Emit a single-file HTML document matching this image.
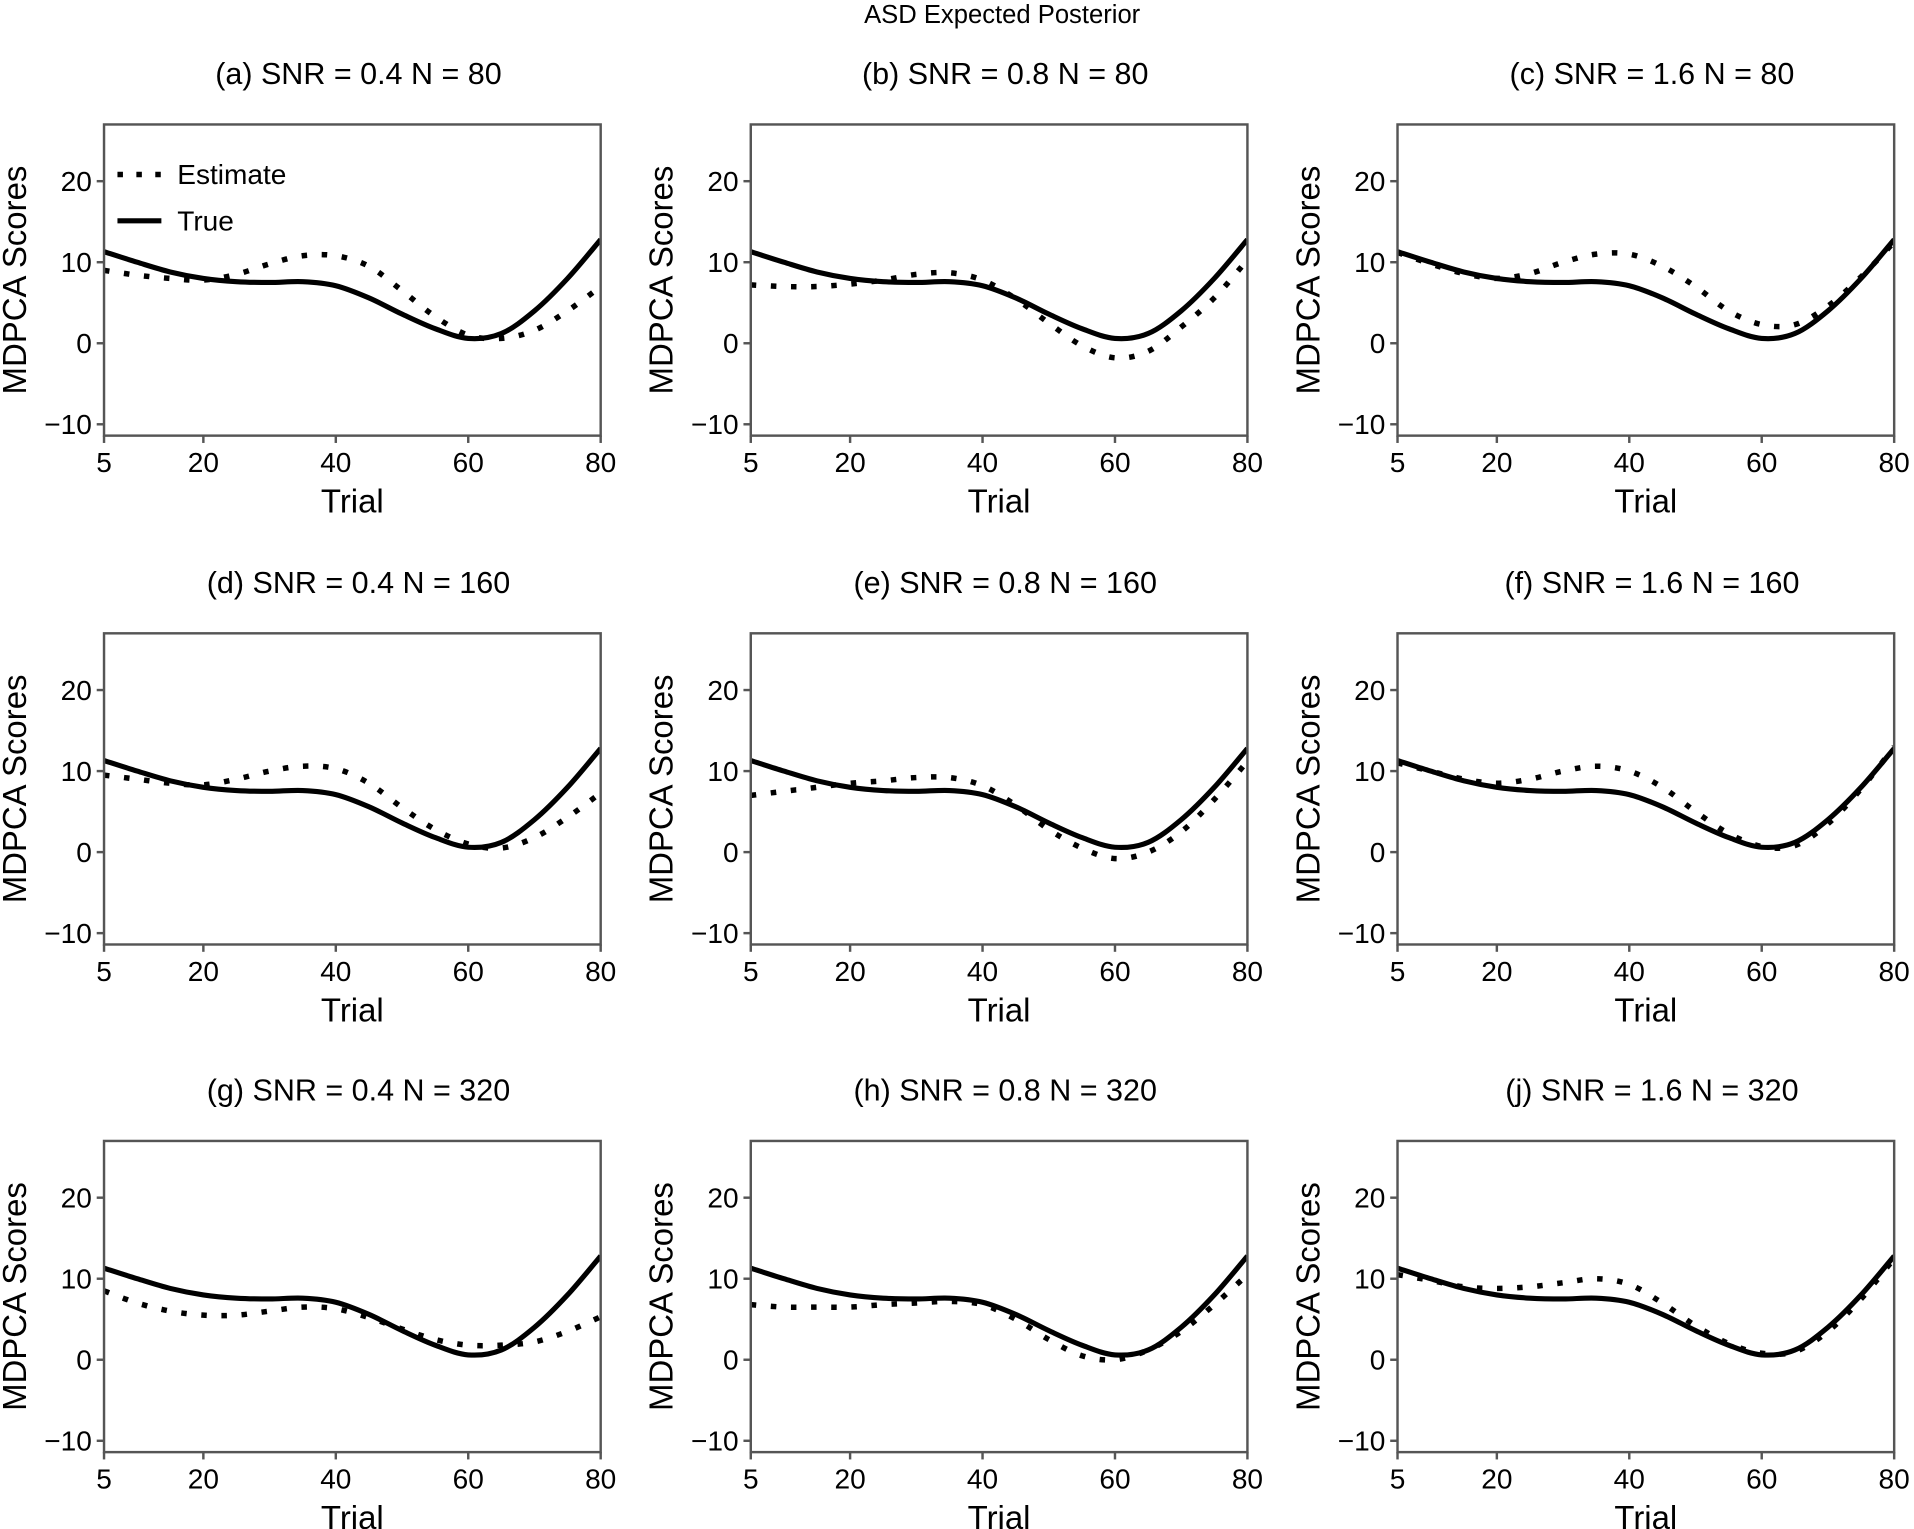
<!DOCTYPE html>
<html><head><meta charset="utf-8">
<style>
html,body{margin:0;padding:0;background:#fff;}
svg{display:block;font-family:"Liberation Sans",Arial,sans-serif;}
</style></head>
<body>
<svg id="fig" width="1914" height="1529" viewBox="0 0 1568 1253" xmlns="http://www.w3.org/2000/svg">
<text x="821" y="19" text-anchor="middle" font-size="21" fill="#000">ASD Expected Posterior</text>
</svg>
<script>
const trials = [5,10,15,20,25,30,35,40,45,50,55,60,65,70,75,80];
const trueScores = [11.3,10,8.8,8,7.6,7.5,7.6,7.1,5.6,3.6,1.8,0.6,1.2,4,8,12.8];
const estA = [9,8.4,8,7.8,8.5,9.8,10.8,10.8,9.5,6.5,3.3,1.0,0.6,1.6,4,7];
const estB = [7.2,7,7,7.3,7.8,8.5,8.7,7.8,5.5,2.5,-0.3,-1.8,-1,2,5.6,10.3];
const estC = [11.2,9.8,8.6,8,8.6,10,11,11,9.5,7,4,2.3,2.3,4.6,8.2,12.5];
const estD = [9.5,9,8.5,8.3,9,10,10.6,10.3,8.5,5.5,2.8,1,0.5,1.8,4.3,7.3];
const estE = [7,7.5,8,8.5,8.8,9.2,9.2,8.2,5.8,2.8,0.5,-0.8,0,2.5,6.5,11.2];
const estF = [11,10,9,8.5,9,10,10.6,10,8,5,2.3,0.7,0.8,3.5,7.8,13];
const estG = [8.5,7,6,5.5,5.5,6,6.5,6.3,5.2,3.8,2.5,1.8,1.8,2.2,3.5,5.3];
const estH = [6.8,6.5,6.5,6.5,6.8,7,7.2,6.8,5,2.5,0.5,0,1.2,3.5,6.8,10.5];
const estJ = [10.5,9.8,9,8.8,9,9.5,10,9.3,7,4.2,2,0.8,1,3.5,7.5,12.5];
const panelTitles = ["(a) SNR = 0.4 N = 80","(b) SNR = 0.8 N = 80","(c) SNR = 1.6 N = 80",
"(d) SNR = 0.4 N = 160","(e) SNR = 0.8 N = 160","(f) SNR = 1.6 N = 160",
"(g) SNR = 0.4 N = 320","(h) SNR = 0.8 N = 320","(j) SNR = 1.6 N = 320"];
const estimates = [estA,estB,estC,estD,estE,estF,estG,estH,estJ];
const xTicks = [5,20,40,60,80];
const yTicks = [-10,0,10,20];

const NS = "http://www.w3.org/2000/svg";
const svg = document.getElementById('fig');
function mk(tag, attrs, parent){const e=document.createElementNS(NS,tag);for(const k in attrs)e.setAttribute(k,attrs[k]);(parent||svg).appendChild(e);return e;}
const colX=[85,615,1145], rowY=[102,519,935], W=407, H=255;
const xMin=5,xMax=80,yMin=-11.4,yMax=27;
function smooth(pts){let d=`M${pts[0][0]},${pts[0][1]}`;for(let i=0;i<pts.length-1;i++){const p0=pts[Math.max(0,i-1)],p1=pts[i],p2=pts[i+1],p3=pts[Math.min(pts.length-1,i+2)];const c1=[p1[0]+(p2[0]-p0[0])/6,p1[1]+(p2[1]-p0[1])/6],c2=[p2[0]-(p3[0]-p1[0])/6,p2[1]-(p3[1]-p1[1])/6];d+=` C${c1[0]},${c1[1]} ${c2[0]},${c2[1]} ${p2[0]},${p2[1]}`;}return d;}
for(let p=0;p<9;p++){
  const L=colX[p%3],T=rowY[Math.floor(p/3)];
  const sx=v=>L+(v-xMin)/(xMax-xMin)*W, sy=v=>T+(yMax-v)/(yMax-yMin)*H;
  const g=mk('g',{});
  
  
  const t=mk('text',{x:L+W/2+5,y:T-33,'text-anchor':'middle','font-size':25},g);t.textContent=panelTitles[p];
  
  
  const clipId='c'+p;
  const cp=mk('clipPath',{id:clipId},g);mk('rect',{x:L,y:T,width:W,height:H},cp);
  const tl=mk('path',{d:smooth(trials.map((x,i)=>[sx(x),sy(trueScores[i])])),fill:'none',stroke:'#000','stroke-width':4.2,'clip-path':`url(#${clipId})`},g);
  
  
  const el=mk('path',{d:smooth(trials.map((x,i)=>[sx(x),sy(estimates[p][i])])),fill:'none',stroke:'#000','stroke-width':4.5,'stroke-dasharray':'4.5 12','clip-path':`url(#${clipId})`},g);
  
  
  const fr=mk('rect',{x:L,y:T,width:W,height:H,fill:'none',stroke:'#555','stroke-width':2},g);
  
  
  xTicks.forEach(v=>{mk('line',{x1:sx(v),x2:sx(v),y1:T+H,y2:T+H+6,stroke:'#555','stroke-width':2},g);
    const tx=mk('text',{x:sx(v),y:T+H+30,'text-anchor':'middle','font-size':23},g);tx.textContent=v;
    
    });
  yTicks.forEach(v=>{mk('line',{x1:L-6,x2:L,y1:sy(v),y2:sy(v),stroke:'#555','stroke-width':2},g);
    const ty=mk('text',{x:L-10,y:sy(v)+8,'text-anchor':'end','font-size':23},g);ty.textContent=v<0?'\u2212'+(-v):v;
    
    });
  const xl=mk('text',{x:L+W/2,y:T+H+63,'text-anchor':'middle','font-size':27},g);xl.textContent='Trial';
  
  
  const yx=L-64,yy=T+H/2;
  const yl=mk('text',{x:yx,y:yy,'text-anchor':'middle','font-size':27,transform:`rotate(-90 ${yx} ${yy})`},g);yl.textContent='MDPCA Scores';
  
  
  if(p===0){
    const lg=mk('g',{},g);
    
    
    mk('line',{x1:96,x2:132,y1:143,y2:143,stroke:'#000','stroke-width':4.5,'stroke-dasharray':'4.5 11'},lg);
    const a=mk('text',{x:145,y:151,'font-size':23},lg);a.textContent='Estimate';
    
    
    mk('line',{x1:96,x2:132,y1:181,y2:181,stroke:'#000','stroke-width':4.2},lg);
    const b=mk('text',{x:145,y:189,'font-size':23},lg);b.textContent='True';
    
    
  }
}
</script>
</body></html>
